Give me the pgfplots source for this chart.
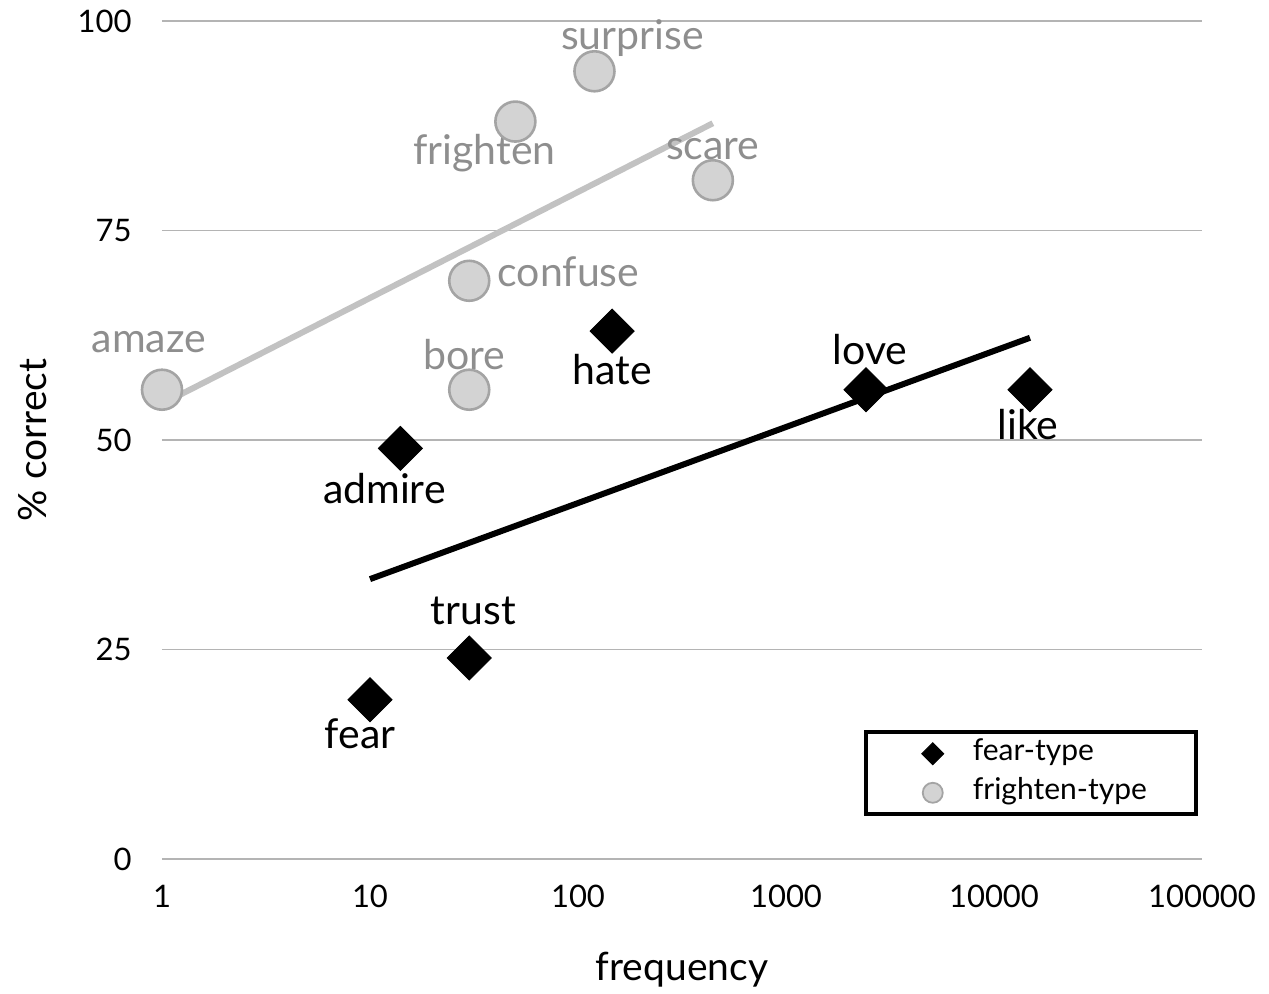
\documentclass[border=0pt]{standalone}
\usepackage{pgfplots}
\pgfplotsset{compat=1.18}
\usepackage{fontspec}
\setmainfont{Lato}
\definecolor{lbl}{HTML}{8E8E8E}
\definecolor{circfill}{HTML}{D3D3D3}
\definecolor{circedge}{HTML}{A4A4A4}
\definecolor{gline}{HTML}{C2C2C2}
\definecolor{gridc}{HTML}{B4B4B4}
\begin{document}
\begin{tikzpicture}
\begin{axis}[
  name=ax, at={(0,0)}, anchor=south west,
  scale only axis, width=520pt, height=419pt,
  xmode=log, xmin=1, xmax=100000, ymin=0, ymax=100,
  clip=false,
  axis line style={draw=none},
  xtick={1,10,100,1000,10000,100000},
  xticklabels={1,10,100,1000,10000,100000},
  ytick={0,25,50,75,100},
  yticklabels={0,25,50,75,100},
  minor tick num=0, major tick length=0pt, minor tick length=0pt,
  ymajorgrids, grid style={gridc, line width=0.7pt},
  ticklabel style={font=\fontsize{15.5}{18}\selectfont, inner sep=0pt},
  yticklabel style={anchor=east, xshift=-15pt},
  xticklabel style={anchor=north, yshift=-13pt},
  xlabel={frequency}, ylabel={\% correct},
  label style={font=\fontsize{19.5}{23}\selectfont},
  xlabel style={at={(axis description cs:0.5,0)}, anchor=center, yshift=-55.5pt},
  ylabel style={at={([xshift=-64.5pt]axis description cs:0,0.5)}, anchor=center},
  legend image code/.code={\path (-1.5pt,0pt);
    \draw[mark repeat=2,mark phase=2,#1] plot coordinates {(0cm,0cm) (0.3cm,0cm) (0.6cm,0cm)};},
  legend style={at={(0.996,0.051)}, anchor=south east, draw=black, line width=2pt,
    inner xsep=22.5pt, inner ysep=2pt, row sep=2pt,
    nodes={text height=10pt, text depth=3.5pt, inner sep=2pt},
    /tikz/every odd column/.append style={column sep=12.5pt},
    font=\fontsize{15}{17}\selectfont},
  legend cell align=left,
]
% frighten-type points
\addplot[forget plot, only marks, mark=*, mark size=10pt,
  mark options={fill=circfill, draw=circedge, line width=1.3pt}]
  coordinates {(1,56) (30,56) (30,69) (50,88) (120,94) (445,81)};
% fear-type points
\addplot[forget plot, only marks, mark=square*, mark size=7.8pt,
  mark options={rotate=45, fill=black, draw=black}]
  coordinates {(10,19) (30,24) (14,49) (146,63) (2425,56) (14900,56)};
% trend lines
\addplot[forget plot, gline, line width=3pt] coordinates {(1,54.3) (445,87.8)};
\addplot[forget plot, black, line width=3pt] coordinates {(10,33.4) (14900,62.2)};
% legend
\addlegendimage{only marks, mark=square*, mark size=3.9pt, mark options={rotate=45, fill=black, draw=black, line width=0.4pt}}
\addlegendentry{fear-type}
\addlegendimage{only marks, mark=*, mark size=5pt, mark options={fill=circfill, draw=circedge, line width=0.9pt}}
\addlegendentry{frighten-type}
% labels
\begin{scope}[every node/.style={font=\fontsize{20.5}{24}\selectfont, anchor=base, inner sep=0pt}]
\node[text=lbl] at ([xshift=-6.5pt,yshift=18.5pt]axis cs:1,56) {amaze};
\node[text=lbl] at ([xshift=-2.5pt,yshift=10pt]axis cs:30,56) {bore};
\node[text=lbl, anchor=base west] at ([xshift=14pt,yshift=-3pt]axis cs:30,69) {confuse};
\node[text=lbl] at ([xshift=-15.5pt,yshift=-21.5pt]axis cs:50,88) {frighten};
\node[text=lbl] at ([xshift=19pt,yshift=11pt]axis cs:120,94) {surprise};
\node[text=lbl] at ([xshift=0pt,yshift=10.5pt]axis cs:445,81) {scare};
\node at ([yshift=-26.5pt]axis cs:146,63) {hate};
\node at ([xshift=2pt,yshift=12.5pt]axis cs:2425,56) {love};
\node at ([xshift=-1pt,yshift=-25pt]axis cs:14900,56) {like};
\node at ([xshift=-8pt,yshift=-27.5pt]axis cs:14,49) {admire};
\node at ([xshift=2pt,yshift=16.5pt]axis cs:30,24) {trust};
\node at ([xshift=-5pt,yshift=-24.5pt]axis cs:10,19) {fear};
\end{scope}
\end{axis}
\pgfresetboundingbox
\path (-81pt,-67pt) rectangle (553.5pt,429.5pt);
\end{tikzpicture}
\end{document}
